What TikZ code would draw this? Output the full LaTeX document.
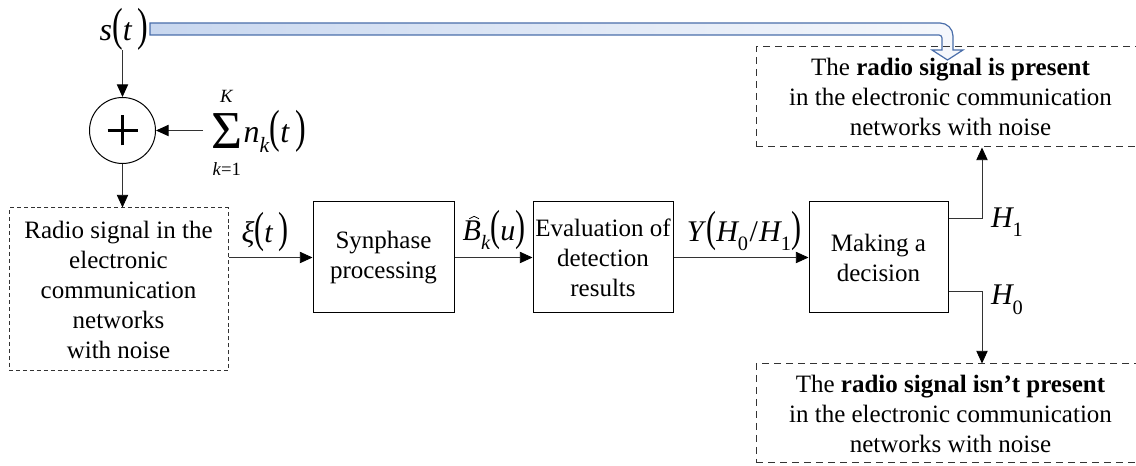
\documentclass[tikz,border=0pt]{standalone}
\usepackage{graphicx}
\usepackage{pict2e}
\usepackage{fontspec}
\setmainfont{Liberation Serif}
\usetikzlibrary{arrows.meta}
\definecolor{barline}{HTML}{4A6EAA}
\definecolor{barleft}{HTML}{C8D7EF}
\definecolor{barmid}{HTML}{A6BCE5}
\definecolor{barright}{HTML}{F6F8FC}
\definecolor{dashgray}{HTML}{333333}
\newcommand{\mv}[1]{\textit{#1}}
\newcommand{\lp}{\scalebox{1}[1.45]{(}}
\newcommand{\rp}{\scalebox{1}[1.45]{)}}
\newcommand{\sub}[1]{\raisebox{-0.32em}{\fontsize{0.68em}{0.68em}\selectfont #1}}
\newcommand{\Bhat}{\leavevmode\rlap{\setlength\unitlength{1pt}\linethickness{0.6pt}\begin{picture}(0,0)\put(5,16.2){\line(2,1){3.6}}\put(8.6,18){\line(2,-1){3.6}}\end{picture}}\textit{B}}
\begin{document}
\begin{tikzpicture}[x=0.75pt,y=-0.75pt,
  blockbox/.style={draw=black, line width=0.75pt, minimum width=#1, minimum height=83.25pt, inner sep=0pt, align=center, font=\fontsize{18.75}{22.5}\selectfont},
  dashbox/.style={draw=dashgray, line width=0.75pt, dash pattern=on 5.5pt off 3.5pt, inner sep=0pt, align=center, font=\fontsize{18.75}{22.5}\selectfont},
  leftdash/.style={draw=dashgray, line width=0.75pt, dash pattern=on 3pt off 2.2pt, inner sep=0pt, align=center, font=\fontsize{18.75}{22.5}\selectfont},
  mathlab/.style={inner sep=0pt, font=\fontsize{22.5}{24}\selectfont},
  arr/.style={draw=black!80, line width=0.65pt, -{Triangle[length=9.5pt,width=8.5pt,fill=black,color=black]}},
  ]
\useasboundingbox (0,0) rectangle (1136,466);
\clip (0,0) rectangle (1136,466);

% hollow shaded arrow from s(t) to the upper result box (drawn with upward y so the shading keeps its direction)
\begin{scope}[x=0.75pt,y=0.75pt]
\path[draw=barline, line width=0.9pt, left color=barleft, middle color=barmid, right color=barright]
  (150,-23) -- (940,-23) arc[start angle=90, end angle=0, radius=13] -- (953,-50) -- (963,-50)
  -- (947.5,-60) -- (932,-50) -- (942,-50) -- (942,-38) arc[start angle=0, end angle=90, radius=3]
  -- (150,-35) -- cycle;
\end{scope}

% source and adder
\node[mathlab, font=\fontsize{24}{26}\selectfont] (st) at (124,29) {\mv{s}\lp\mv{t}\,\rp};
\node[draw=black, line width=0.75pt, circle, minimum size=49.5pt, inner sep=0pt] (add) at (122.5,130.5) {};
\draw[line width=1.9pt] ([xshift=-11.25pt]add.center) -- ([xshift=11.25pt]add.center);
\draw[line width=1.9pt] ([yshift=-11.25pt]add.center) -- ([yshift=11.25pt]add.center);
\node[mathlab, anchor=west, font=\fontsize{24}{26}\selectfont] (sumlab) at (211,134)
  {\setlength\tabcolsep{0pt}\renewcommand\arraystretch{0.75}\begin{tabular}{c}{\fontsize{14}{14}\selectfont\mv{K}}\\[2pt]{\fontsize{40}{40}\selectfont Σ}\\[1pt]{\fontsize{14}{14}\selectfont\mv{k}=1}\end{tabular}\kern1pt\mv{n}\sub{\mv{k}}\lp\mv{t}\,\rp};
\coordinate (sumin) at ([xshift=-6pt]sumlab.west);

% processing chain
\node[leftdash, minimum width=164.25pt, minimum height=122.25pt] (lbox) at (118.5,289.5)
  {Radio signal in the\\electronic\\communication\\networks\\with noise};
\node[blockbox=105.75pt] (syn) at (383.5,257.5) {Synphase\\processing};
\node[blockbox=105pt] (eval) at (603,257.5) {Evaluation of\\detection\\results};
\node[blockbox=104.25pt] (make) at (878.5,257.5) {Making a\\decision};

\node[dashbox, minimum width=291.75pt, minimum height=75pt] (pbox) at (950.5,97)
  {The \textbf{radio signal is present}\\in the electronic communication\\networks with noise};
\node[dashbox, minimum width=291.75pt, minimum height=74.25pt] (nbox) at (950.5,413.5)
  {The \textbf{radio signal isn’t present}\\in the electronic communication\\networks with noise};

% labels
\node[mathlab] (xi) at (265,232) {\mv{ξ}\lp\mv{t}\,\rp};
\node[mathlab] (bk) at (494,230) {\Bhat\sub{\mv{k}}\lp\mv{u}\rp};
\node[mathlab] (yh) at (744,231) {\mv{Y}\lp\mv{H}\kern-1pt\sub{0}\kern1pt/\kern1pt\mv{H}\kern-1pt\sub{1}\rp};
\node[mathlab] (h1) at (1007,222) {\mv{H}\kern-1pt\sub{1}};
\node[mathlab] (h0) at (1007,300) {\mv{H}\kern-1pt\sub{0}};

% connectors
\draw[arr] (st.south -| add.north) -- (add.north);
\draw[arr] (sumin |- add.east) -- (add.east);
\draw[arr] (add.south) -- (add.south |- lbox.north);
\draw[arr] (lbox.east |- syn.west) -- (syn.west);
\draw[arr] (syn.east) -- (eval.west);
\draw[arr] (eval.east) -- (make.west);
\coordinate (c1) at (982,218);
\coordinate (c0) at (982,291);
\draw[arr] (make.east |- c1) -- (c1) -- (c1 |- pbox.south);
\draw[arr] (make.east |- c0) -- (c0) -- (c0 |- nbox.north);
\end{tikzpicture}
\end{document}
